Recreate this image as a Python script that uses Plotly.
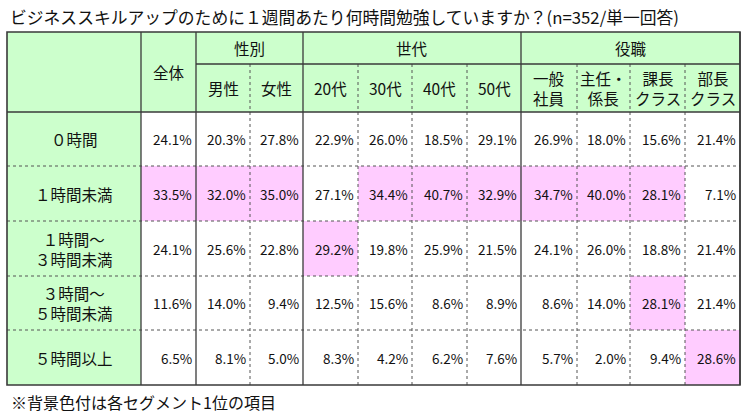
import plotly.graph_objects as go

title = "ビジネススキルアップのために１週間あたり何時間勉強していますか？(n=352/単一回答)"
footnote = "※背景色付は各セグメント1位の項目"

groups = ["性別", "世代", "役職"]
group_spans = [(1, 2), (3, 6), (7, 10)]  # column index ranges (inclusive) in value columns
columns = ["全体", "男性", "女性", "20代", "30代", "40代", "50代",
           "一般<br>社員", "主任・<br>係長", "課長<br>クラス", "部長<br>クラス"]
rows = ["０時間", "１時間未満", "１時間～<br>３時間未満", "３時間～<br>５時間未満", "５時間以上"]

v_0h = [24.1, 20.3, 27.8, 22.9, 26.0, 18.5, 29.1, 26.9, 18.0, 15.6, 21.4]
v_lt1 = [33.5, 32.0, 35.0, 27.1, 34.4, 40.7, 32.9, 34.7, 40.0, 28.1, 7.1]
v_1to3 = [24.1, 25.6, 22.8, 29.2, 19.8, 25.9, 21.5, 24.1, 26.0, 18.8, 21.4]
v_3to5 = [11.6, 14.0, 9.4, 12.5, 15.6, 8.6, 8.9, 8.6, 14.0, 28.1, 21.4]
v_5plus = [6.5, 8.1, 5.0, 8.3, 4.2, 6.2, 7.6, 5.7, 2.0, 9.4, 28.6]
values = [v_0h, v_lt1, v_1to3, v_3to5, v_5plus]

# layout geometry (pixel coordinates)
W, H = 753, 415
xb = [7, 141, 196, 250, 303, 358, 412, 467, 521, 577, 630, 685, 740]
yb = [32, 64, 112, 166, 221, 276, 330, 385]

GREEN = "#ccffcc"
PINK = "#ffccff"
LINE = "#3a3a3a"
DOT = "#555555"
FONT = "Noto Sans CJK JP"
TXT = "#111111"

shapes = []
annotations = []

def rect(x0, y0, x1, y1, color):
    shapes.append(dict(type="rect", xref="x", yref="y", x0=x0, y0=y0, x1=x1, y1=y1,
                       fillcolor=color, line=dict(width=0), layer="below"))

def line(x0, y0, x1, y1, color=LINE, width=1.3, dash="solid"):
    shapes.append(dict(type="line", xref="x", yref="y", x0=x0, y0=y0, x1=x1, y1=y1,
                       line=dict(color=color, width=width, dash=dash)))

def text(x, y, s, size=14, xanchor="center"):
    annotations.append(dict(x=x, y=y, xref="x", yref="y", text=s, showarrow=False,
                            xanchor=xanchor, yanchor="middle",
                            font=dict(family=FONT, size=size, color=TXT)))

# header background
rect(xb[0], yb[0], xb[-1], yb[2], GREEN)
# row label background
rect(xb[0], yb[2], xb[1], yb[-1], GREEN)

# highlight max per column
ncol = len(columns)
for c in range(ncol):
    colvals = [values[r][c] for r in range(len(rows))]
    m = max(colvals)
    for r in range(len(rows)):
        if colvals[r] == m:
            rect(xb[c + 1], yb[r + 2], xb[c + 2], yb[r + 3], PINK)

HS = 15.5
# header texts
text((xb[1] + xb[2]) / 2, (yb[0] + yb[2]) / 2, columns[0], HS)
for g, (a, b) in zip(groups, group_spans):
    text((xb[a + 1] + xb[b + 2]) / 2, (yb[0] + yb[1]) / 2, g, HS)
for c in range(1, ncol):
    text((xb[c + 1] + xb[c + 2]) / 2, (yb[1] + yb[2]) / 2, columns[c], HS)

# row labels and values
for r, lab in enumerate(rows):
    yc = (yb[r + 2] + yb[r + 3]) / 2
    text((xb[0] + xb[1]) / 2, yc, lab, HS)
    for c in range(ncol):
        text(xb[c + 2] - 2, yc, f"{values[r][c]:.1f}%", 13.5, xanchor="right")

# dotted horizontal lines between data rows
for r in range(3, len(yb) - 1):
    line(xb[0], yb[r], xb[-1], yb[r], DOT, 1, "dot")

# dotted vertical lines between sub-columns within groups
for a, b in group_spans:
    for c in range(a, b):
        line(xb[c + 2], yb[1], xb[c + 2], yb[-1], DOT, 1, "dot")

# solid lines
line(xb[2], yb[1], xb[-1], yb[1])  # under group headers
line(xb[0], yb[2], xb[-1], yb[2])  # header bottom
for xi in [xb[1], xb[2]]:
    line(xi, yb[0], xi, yb[-1])
for a, b in group_spans:
    line(xb[b + 2], yb[0], xb[b + 2], yb[-1])
# outer border
shapes.append(dict(type="rect", xref="x", yref="y", x0=xb[0], y0=yb[0], x1=xb[-1], y1=yb[-1],
                   line=dict(color=LINE, width=1.6), fillcolor="rgba(0,0,0,0)"))

# title and footnote
annotations.append(dict(x=8, y=17, xref="x", yref="y", text=title, showarrow=False,
                        xanchor="left", yanchor="middle",
                        font=dict(family=FONT, size=16.8, color=TXT)))
annotations.append(dict(x=9, y=402, xref="x", yref="y", text=footnote, showarrow=False,
                        xanchor="left", yanchor="middle",
                        font=dict(family=FONT, size=16, color=TXT)))

fig = go.Figure()
fig.add_trace(go.Scatter(x=[0, W], y=[0, H], mode="markers",
                         marker=dict(opacity=0), hoverinfo="skip", showlegend=False))
fig.update_layout(
    width=W, height=H,
    margin=dict(l=0, r=0, t=0, b=0),
    paper_bgcolor="white", plot_bgcolor="white",
    xaxis=dict(range=[0, W], visible=False, fixedrange=True),
    yaxis=dict(range=[H, 0], visible=False, fixedrange=True),
    shapes=shapes, annotations=annotations,
    showlegend=False,
)
fig.write_html("out.html", config={"displayModeBar": False},
               post_script="document.body.style.margin='0';document.body.style.overflow='hidden';")
